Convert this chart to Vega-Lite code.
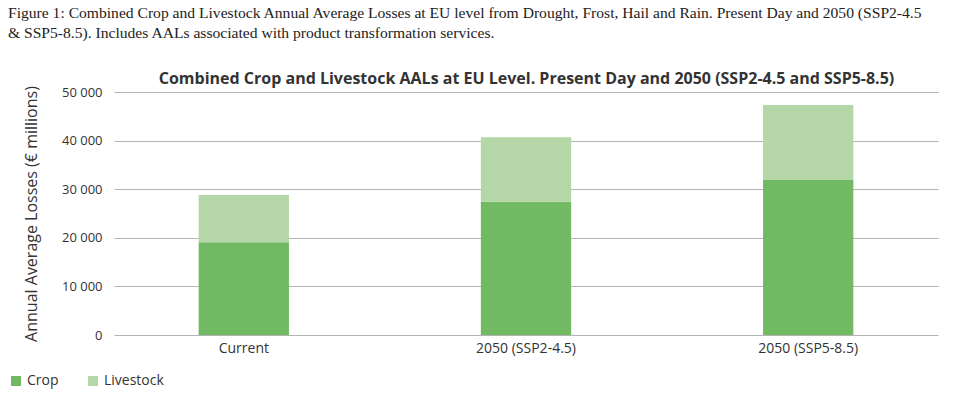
{
  "$schema": "https://vega.github.io/schema/vega-lite/v6.json",
  "autosize": {"type": "none"},
  "width": 824,
  "height": 243,
  "padding": {"left": 114, "top": 92, "right": 16, "bottom": 62},
  "background": "white",
  "title": {
    "text": ["Figure 1: Combined Crop and Livestock Annual Average Losses at EU level from Drought, Frost, Hail and Rain. Present Day and 2050 (SSP2-4.5", "& SSP5-8.5). Includes AALs associated with product transformation services."],
    "font": "Liberation Serif",
    "fontSize": 15.6,
    "fontWeight": "normal",
    "color": "#222222",
    "anchor": "start",
    "frame": "group",
    "dx": -106,
    "lineHeight": 20,
    "offset": 28
  },
  "data": {
    "values": [
      {"scenario": "Current", "type": "Crop", "value": 19100},
      {"scenario": "Current", "type": "Livestock", "value": 9700},
      {"scenario": "2050 (SSP2-4.5)", "type": "Crop", "value": 27400},
      {"scenario": "2050 (SSP2-4.5)", "type": "Livestock", "value": 13300},
      {"scenario": "2050 (SSP5-8.5)", "type": "Crop", "value": 31900},
      {"scenario": "2050 (SSP5-8.5)", "type": "Livestock", "value": 15400}
    ]
  },
  "layer": [
    {
      "mark": {"type": "bar"},
      "encoding": {
        "x": {
          "field": "scenario",
          "type": "nominal",
          "sort": ["Current", "2050 (SSP2-4.5)", "2050 (SSP5-8.5)"],
          "scale": {"paddingInner": 0.68, "paddingOuter": 0.3},
          "axis": {
            "title": null,
            "labelAngle": 0,
            "labelFont": "Open Sans",
            "labelFontSize": 14,
            "labelColor": "#333333",
            "labelPadding": 6,
            "ticks": false,
            "domain": false,
            "grid": false
          }
        },
        "y": {
          "field": "value",
          "type": "quantitative",
          "stack": "zero",
          "scale": {"domain": [0, 50000]},
          "axis": {
            "title": "Annual Average Losses (€ millions)",
            "titleFont": "Open Sans",
            "titleFontSize": 16,
            "titleFontWeight": "normal",
            "titleColor": "#333333",
            "titlePadding": 22,
            "values": [0, 10000, 20000, 30000, 40000, 50000],
            "labelExpr": "replace(format(datum.value, ','), /,/g, ' ')",
            "labelFont": "Open Sans",
            "labelFontSize": 13,
            "labelColor": "#333333",
            "labelPadding": 12,
            "ticks": false,
            "domain": false,
            "grid": true,
            "gridColor": "#b3b3b3",
            "gridWidth": 1
          }
        },
        "order": {"field": "type", "sort": "ascending"},
        "color": {
          "field": "type",
          "type": "nominal",
          "scale": {"domain": ["Crop", "Livestock"], "range": ["#72b963", "#b5d7a7"]},
          "legend": {
            "title": null,
            "orient": "none",
            "legendX": -105,
            "legendY": 282,
            "direction": "horizontal",
            "symbolType": "square",
            "symbolSize": 100,
            "symbolStrokeWidth": 0,
            "labelFont": "Open Sans",
            "labelFontSize": 14,
            "labelColor": "#333333",
            "columnPadding": 27
          }
        }
      }
    },
    {
      "mark": {"type": "tick", "opacity": 0},
      "encoding": {
        "x": {
          "field": "scenario",
          "type": "nominal",
          "sort": ["Current", "2050 (SSP2-4.5)", "2050 (SSP5-8.5)"],
          "axis": {
            "orient": "top",
            "title": "Combined Crop and Livestock AALs at EU Level. Present Day and 2050 (SSP2-4.5 and SSP5-8.5)",
            "titleFont": "Open Sans",
            "titleFontSize": 16,
            "titleFontWeight": "bold",
            "titleColor": "#333333",
            "titlePadding": 6,
            "labels": false,
            "ticks": false,
            "domain": false,
            "grid": false
          }
        }
      }
    }
  ],
  "resolve": {"axis": {"x": "independent"}},
  "config": {"view": {"stroke": null}}
}
